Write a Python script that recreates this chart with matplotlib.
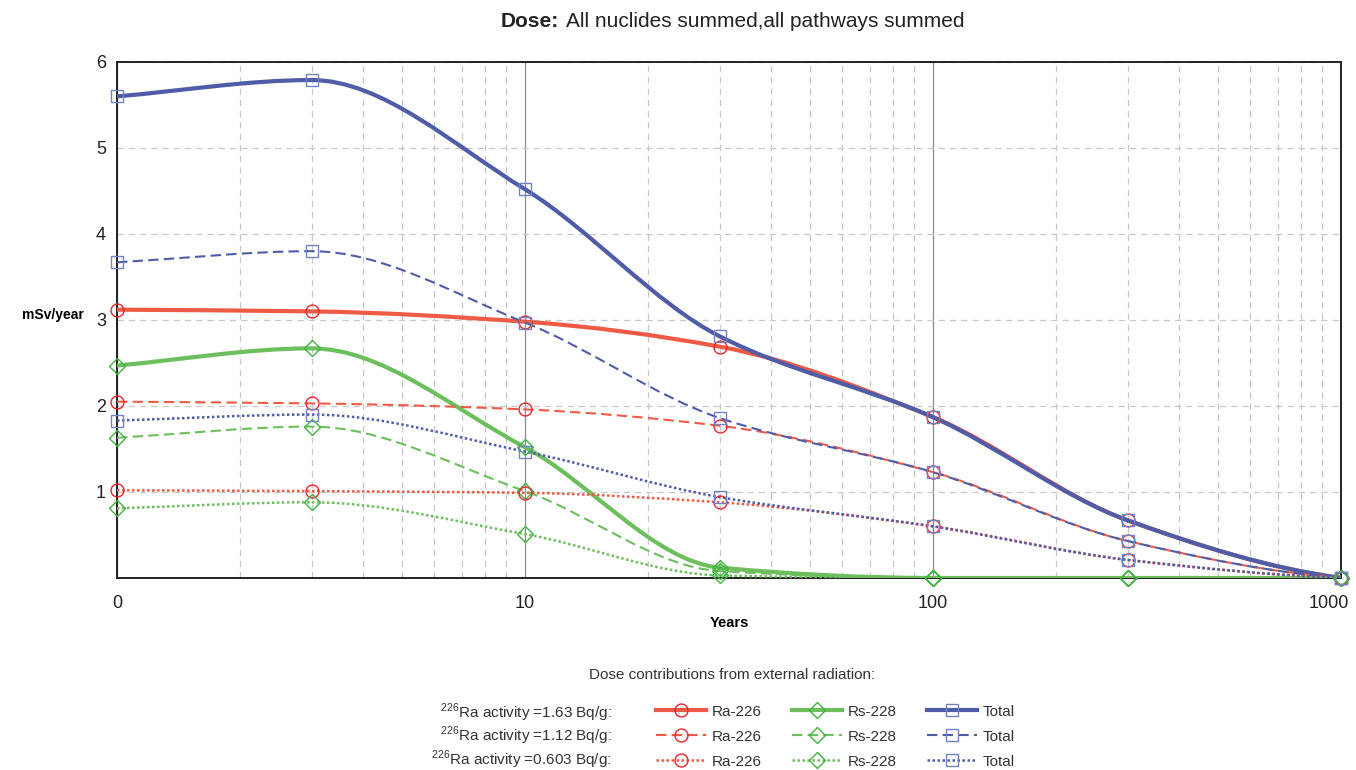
import matplotlib.pyplot as plt
import numpy as np
from matplotlib.path import Path
from matplotlib.patches import PathPatch
from matplotlib.lines import Line2D
from matplotlib.ticker import FixedLocator, NullFormatter
import matplotlib.transforms as mtransforms

plt.rcParams['font.family'] = ['Liberation Sans', 'DejaVu Sans']
plt.rcParams['mathtext.fontset'] = 'custom'
plt.rcParams['mathtext.rm'] = 'Liberation Sans'

years = [1, 3, 10, 30, 100, 300, 1000]

# dose (mSv/year) for each activity level
ra_163 = [3.12, 3.10, 2.98, 2.69, 1.87, 0.67, 0.0]
rs_163 = [2.47, 2.67, 1.52, 0.12, 0.0, 0.0, 0.0]
tot_163 = [5.60, 5.79, 4.52, 2.81, 1.87, 0.67, 0.0]

ra_112 = [2.05, 2.03, 1.96, 1.77, 1.23, 0.43, 0.0]
rs_112 = [1.63, 1.76, 1.01, 0.08, 0.0, 0.0, 0.0]
tot_112 = [3.67, 3.80, 2.97, 1.86, 1.23, 0.43, 0.0]

ra_0603 = [1.02, 1.01, 0.99, 0.88, 0.60, 0.21, 0.0]
rs_0603 = [0.81, 0.88, 0.51, 0.03, 0.0, 0.0, 0.0]
tot_0603 = [1.83, 1.90, 1.47, 0.94, 0.60, 0.21, 0.0]

row_labels = [r'$^{226}$Ra activity =1.63 Bq/g:',
              r'$^{226}$Ra activity =1.12 Bq/g:',
              r'$^{226}$Ra activity =0.603 Bq/g:']

RED, RED_M = '#ef5a45', '#e8262e'
GREEN, GREEN_M = '#6cbf5c', '#3fb53f'
BLUE, BLUE_M = '#4f5ca8', '#7282c4'

SOLID = '-'
DASHED = (0, (5, 2.5))
DOTTED = (0, (1, 1))


def end_slope(h0, h1, d0, d1):
    m = ((2 * h0 + h1) * d0 - h0 * d1) / (h0 + h1)
    if np.sign(m) != np.sign(d0):
        return 0.0
    if np.sign(d0) != np.sign(d1) and abs(m) > abs(3 * d0):
        return 3 * d0
    return m


def smooth_path(x, y):
    '''monotone cubic bezier path through the points, built in log10(x)'''
    lx = np.log10(x)
    y = np.asarray(y, float)
    h = np.diff(lx)
    d = np.diff(y) / h
    m = np.zeros(len(y))
    m[0] = d[0]
    m[-1] = end_slope(h[-1], h[-2], d[-1], d[-2])
    for i in range(1, len(y) - 1):
        if d[i - 1] * d[i] <= 0:
            m[i] = 0
        else:
            w1 = 2 * h[i] + h[i - 1]
            w2 = h[i] + 2 * h[i - 1]
            m[i] = (w1 + w2) / (w1 / d[i - 1] + w2 / d[i])
    verts = [(x[0], y[0])]
    codes = [Path.MOVETO]
    for i in range(len(y) - 1):
        c1 = (10 ** (lx[i] + h[i] / 3), y[i] + m[i] * h[i] / 3)
        c2 = (10 ** (lx[i + 1] - h[i] / 3), y[i + 1] - m[i + 1] * h[i] / 3)
        verts += [c1, c2, (x[i + 1], y[i + 1])]
        codes += [Path.CURVE4] * 3
    return Path(verts, codes)


fig = plt.figure(figsize=(13.56, 7.70), dpi=100)
ax = fig.add_axes([0.0863, 0.2494, 0.9026, 0.6701])
ax.set_xscale('log')
ax.set_xlim(1, 1000)
ax.set_ylim(0, 6)

series = [
    (ra_163, RED, RED_M, SOLID, 3.0, 'o'),
    (rs_163, GREEN, GREEN_M, SOLID, 3.0, 'D'),
    (tot_163, BLUE, BLUE_M, SOLID, 3.0, 's'),
    (ra_112, RED, RED_M, DASHED, 1.5, 'o'),
    (rs_112, GREEN, GREEN_M, DASHED, 1.5, 'D'),
    (tot_112, BLUE, BLUE_M, DASHED, 1.5, 's'),
    (ra_0603, RED, RED_M, DOTTED, 1.8, 'o'),
    (rs_0603, GREEN, GREEN_M, DOTTED, 1.8, 'D'),
    (tot_0603, BLUE, BLUE_M, DOTTED, 1.8, 's'),
]

for vals, col, mcol, ls, lw, mk in series:
    patch = PathPatch(smooth_path(years, vals), facecolor='none',
                      edgecolor=col, linewidth=lw, linestyle=ls, zorder=3)
    ax.add_patch(patch)
for vals, col, mcol, ls, lw, mk in series:
    ms = 8.6 if mk == 'D' else 9.3
    ax.plot(years, vals, linestyle='none', marker=mk, markersize=ms,
            markerfacecolor='none', markeredgecolor=mcol,
            markeredgewidth=1.0, zorder=4, clip_on=False)

# grid
ax.xaxis.set_major_locator(FixedLocator([1, 10, 100, 1000]))
ax.xaxis.set_minor_locator(FixedLocator(
    [k * 10 ** e for e in range(3) for k in range(2, 10)]))
ax.xaxis.set_minor_formatter(NullFormatter())
ax.set_xticklabels(['0', '10', '100', '1000'])
ax.set_yticks([1, 2, 3, 4, 5, 6])
ax.grid(True, which='minor', axis='x', color='#c8c8c8', linestyle=(0, (5, 4)),
        linewidth=0.9)
ax.grid(True, which='major', axis='x', color='#8a8a8a', linestyle='-',
        linewidth=0.9)
ax.grid(True, which='major', axis='y', color='#c8c8c8', linestyle=(0, (5, 4)),
        linewidth=0.9)
ax.set_axisbelow(True)
ax.tick_params(which='both', length=0, labelsize=13, colors='#222222', pad=8)
ax.tick_params(axis='x', pad=12)
last = ax.get_xticklabels()[-1]
last.set_transform(last.get_transform() +
                   mtransforms.ScaledTranslation(-0.12, 0, fig.dpi_scale_trans))
for s in ax.spines.values():
    s.set_color('#222222')
    s.set_linewidth(1.4)

ax.set_xlabel('Years', fontsize=10.5, fontweight='bold', labelpad=3)
ax.set_ylabel('mSv/year', fontsize=10, fontweight='bold', rotation=0,
              labelpad=0)
ax.yaxis.set_label_coords(-0.0525, 0.497)

fig.text(0.4122, 0.972, 'Dose:', ha='right', va='center', fontsize=15,
         fontweight='bold', color='#222222')
fig.text(0.4174, 0.972, 'All nuclides summed,all pathways summed',
         ha='left', va='center', fontsize=15, color='#222222')

fig.text(0.54, 0.123, 'Dose contributions from external radiation:',
         ha='center', va='center', fontsize=11, color='#333333')

row_y = [0.074, 0.044, 0.013]
for lab, yy in zip(row_labels, row_y):
    fig.text(0.451, yy, lab, ha='right', va='center', fontsize=11,
             color='#333333')

handles = []
labels = []
order = [0, 3, 6, 1, 4, 7, 2, 5, 8]
names = ['Ra-226', 'Rs-228', 'Total']
for idx in order:
    vals, col, mcol, ls, lw, mk = series[idx]
    ms = 8.6 if mk == 'D' else 9.3
    handles.append(Line2D([], [], color=col, linestyle=ls, linewidth=lw,
                          marker=mk, markersize=ms, markerfacecolor='none',
                          markeredgecolor=mcol, markeredgewidth=1.0))
    labels.append(names[idx % 3])
leg = fig.legend(handles, labels, ncol=3, loc='center left',
                 bbox_to_anchor=(0.4838, 0.0435), frameon=False, fontsize=11,
                 handlelength=3.27, handletextpad=0.4, columnspacing=1.95,
                 labelspacing=0.72, borderpad=0, borderaxespad=0)
for t in leg.get_texts():
    t.set_color('#333333')

fig.savefig('out.png', dpi=100)
